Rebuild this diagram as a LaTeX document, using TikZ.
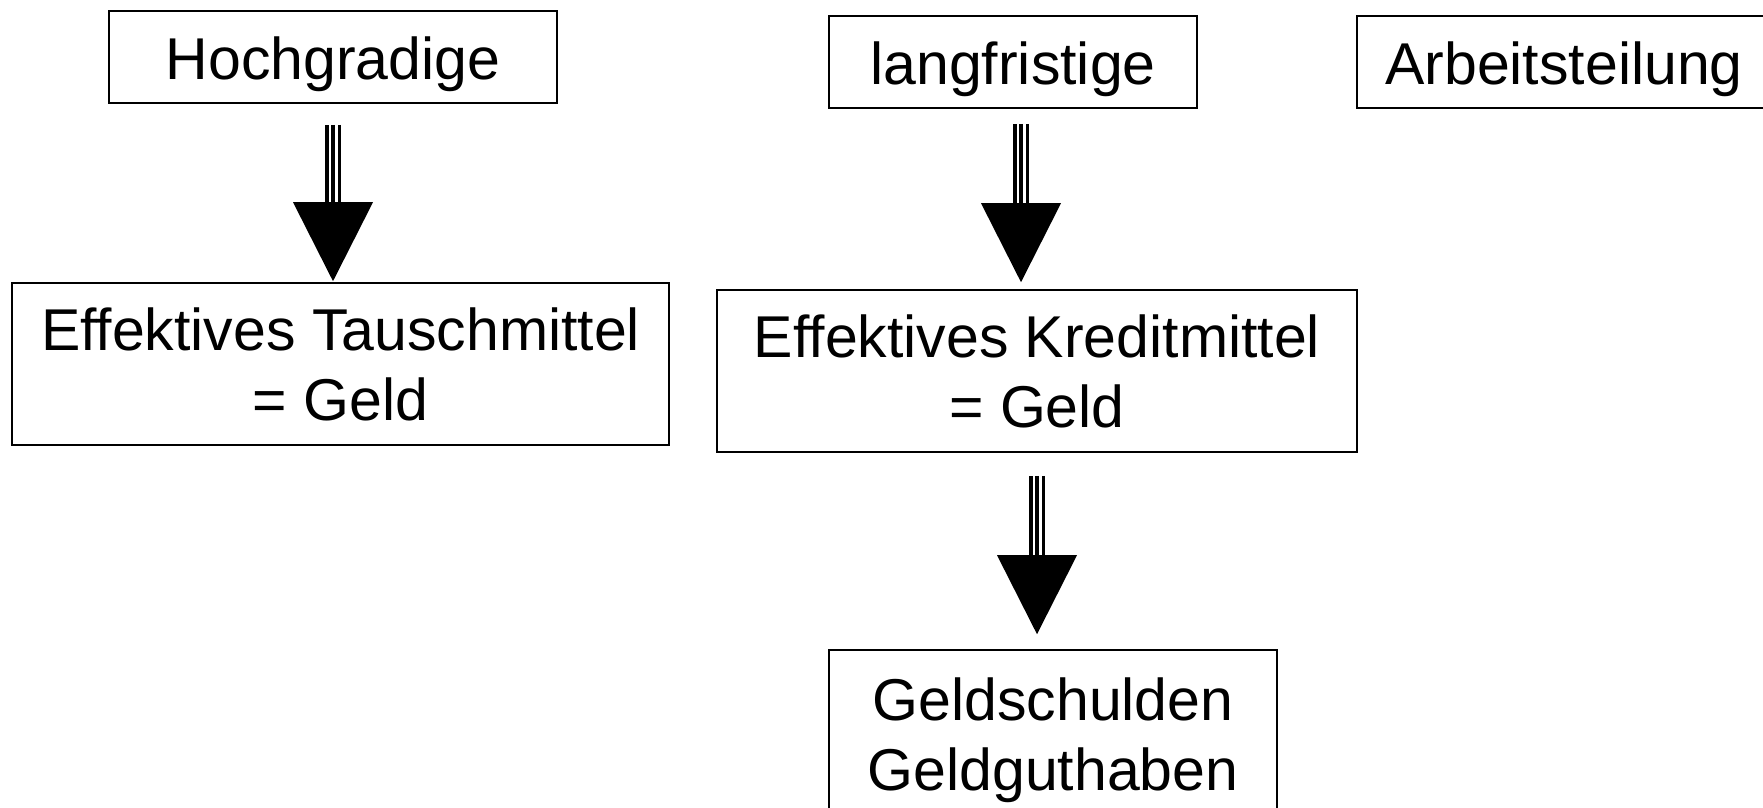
\documentclass[tikz,border=0pt]{standalone}
\usepackage{fontspec}
\setmainfont[Ligatures=CommonOff]{Liberation Sans}
\usetikzlibrary{calc}
\tikzset{
  box/.style={draw, line width=1.6pt, inner sep=0pt, align=center,
    font=\fontsize{59}{70}\selectfont},
  oneline/.style={text height=44pt, text depth=0pt},
  shaftout/.style={line width=16pt},
  shaftgap/.style={white, line width=9pt},
  shaftmid/.style={line width=3.5pt},
  headfill/.style={fill=black}
}
\newcommand\tripleArrow[2]{%
  \draw[shaftout] (#1) -- ($(#2)+(0,-78)$);
  \draw[shaftgap] ($(#1)+(0,-1)$) -- ($(#2)+(0,-77)$);
  \draw[shaftmid] (#1) -- ($(#2)+(0,-78)$);
  \fill[headfill] ($(#2)+(-40,-79)$) -- ($(#2)+(40,-79)$) -- (#2) -- cycle;
}
\begin{document}
\begin{tikzpicture}[x=1pt, y=-1pt]
\useasboundingbox (0,0) rectangle (1763,807);
\clip (0,0) rectangle (1763,807);
\fill[white] (0,0) rectangle (1763,807);

\node[box, oneline, minimum width=448pt, minimum height=92pt] (h) at (333,57) {Hochgradige};
\node[box, oneline, minimum width=368pt, minimum height=92pt] (l) at (1013,62) {langfristige};
\node[box, oneline, minimum width=414pt, minimum height=92pt] (a) at (1564,62) {Arbeitsteilung};

\node[box, minimum width=657pt, minimum height=162pt] (t) at (340.5,364) {Effektives Tauschmittel\\= Geld};
\node[box, minimum width=640pt, minimum height=162pt] (k) at (1037,371) {Effektives Kreditmittel\\= Geld};
\node[box, minimum width=448pt, minimum height=180pt] (g) at (1053,740) {Geldschulden\\Geldguthaben};

\coordinate (a1s) at ($(h.south)+(0,21)$);
\coordinate (a1e) at ($(h.south |- t.north)+(0,-1)$);
\coordinate (a2s) at ($(l.south)+(8,15)$);
\coordinate (a2e) at ($(l.south |- k.north)+(8,-7)$);
\coordinate (a3s) at ($(k.south)+(0,23)$);
\coordinate (a3e) at ($(k.south |- g.north)+(0,-15)$);

\tripleArrow{a1s}{a1e}
\tripleArrow{a2s}{a2e}
\tripleArrow{a3s}{a3e}
\end{tikzpicture}
\end{document}
